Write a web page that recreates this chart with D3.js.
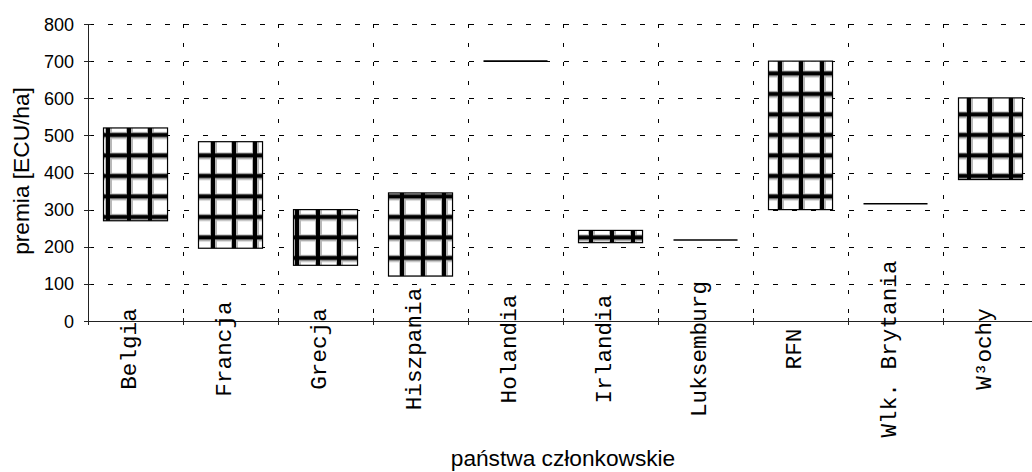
<!DOCTYPE html>
<html>
<head>
<meta charset="utf-8">
<script src="https://cdn.jsdelivr.net/npm/d3@7"></script>
<style>
  html, body { margin: 0; padding: 0; background: #fff; }
  svg { display: block; }
</style>
</head>
<body>
<svg id="chart" width="1032" height="472"></svg>
<script>
// ---- data ----
const categories = ["Belgia", "Francja", "Grecja", "Hiszpania", "Holandia", "Irlandia", "Luksemburg", "RFN", "Wlk. Brytania", "W³ochy"];
const lowValues  = [270, 196, 150, 121, 700, 211, 218, 300, 316, 381];
const highValues = [520, 483, 300, 345, 700, 244, 218, 700, 316, 601];
const yTickValues = [0, 100, 200, 300, 400, 500, 600, 700, 800];
const yTitle = "premia [ECU/ha]";
const xTitle = "państwa członkowskie";

(function () {
// ---- layout ----
const W = 1032, H = 472;
const pLeft = 88, pTop = 24, pBottom = 321;
const step = 95;
const pRight = pLeft + step * categories.length;

const svg = d3.select("#chart");

const x = d3.scaleBand().domain(categories).range([pLeft, pRight])
  .paddingInner(0.326).paddingOuter(0.163);
const y = d3.scaleLinear().domain([0, 800]).range([pBottom, pTop]);

// pattern: thick black grid with soft grey halos
const defs = svg.append("defs");
const PW = 21, PH = 20.5;
const pat = defs.append("pattern").attr("id", "grid")
  .attr("patternUnits", "userSpaceOnUse")
  .attr("width", PW).attr("height", PH);
pat.append("rect").attr("width", PW).attr("height", PH).attr("fill", "#fff");
const halo = "#b8b8b8";
pat.append("rect").attr("x", 0).attr("y", 0).attr("width", 7).attr("height", PH).attr("fill", halo);
pat.append("rect").attr("x", 0).attr("y", 9).attr("width", PW).attr("height", 7).attr("fill", halo);
pat.append("rect").attr("x", 1).attr("y", 0).attr("width", 4).attr("height", PH).attr("fill", "#000");
pat.append("rect").attr("x", 0).attr("y", 10).attr("width", PW).attr("height", 4).attr("fill", "#000");

// gridlines (horizontal)
svg.append("g").selectAll("line").data(yTickValues.filter(v => v > 0)).join("line")
  .attr("x1", pLeft).attr("x2", pRight)
  .attr("y1", d => Math.round(y(d)) + 0.5).attr("y2", d => Math.round(y(d)) + 0.5)
  .attr("stroke", "#000").attr("stroke-width", 1)
  .attr("stroke-dasharray", "5,14").attr("stroke-dashoffset", -1);

// gridlines (vertical) at band boundaries
const bounds = d3.range(1, categories.length + 1).map(i => x.step() * i + pLeft);
svg.append("g").selectAll("line").data(bounds).join("line")
  .attr("x1", d => Math.round(d) + 0.5).attr("x2", d => Math.round(d) + 0.5)
  .attr("y1", pTop).attr("y2", pBottom)
  .attr("stroke", "#000").attr("stroke-width", 1)
  .attr("stroke-dasharray", "4,15").attr("stroke-dashoffset", 0);

// floating bars
const idx = d3.range(categories.length);
svg.append("g").selectAll("rect").data(idx.filter(i => highValues[i] > lowValues[i])).join("rect")
  .attr("x", i => Math.round(x(categories[i])) + 0.5)
  .attr("y", i => y(highValues[i]))
  .attr("width", x.bandwidth())
  .attr("height", i => y(lowValues[i]) - y(highValues[i]))
  .attr("fill", "url(#grid)")
  .attr("stroke", "#000")
  .attr("stroke-width", 1.2);
// zero-height bars drawn as lines
svg.append("g").selectAll("line").data(idx.filter(i => highValues[i] === lowValues[i])).join("line")
  .attr("x1", i => Math.round(x(categories[i])) + 0.5)
  .attr("x2", i => Math.round(x(categories[i])) + 0.5 + x.bandwidth())
  .attr("y1", i => y(highValues[i])).attr("y2", i => y(highValues[i]))
  .attr("stroke", "#000")
  .attr("stroke-width", 1.6);

// y axis
const yAxis = svg.append("g");
yAxis.append("line").attr("x1", pLeft + 0.5).attr("x2", pLeft + 0.5)
  .attr("y1", pTop).attr("y2", pBottom + 2).attr("stroke", "#222");
yAxis.selectAll("line.tick").data(yTickValues).join("line").attr("class", "tick")
  .attr("x1", pLeft - 4).attr("x2", pLeft + 3)
  .attr("y1", d => Math.round(y(d)) + 0.5).attr("y2", d => Math.round(y(d)) + 0.5)
  .attr("stroke", "#222");
yAxis.selectAll("text").data(yTickValues).join("text")
  .attr("x", 74).attr("y", d => y(d) + 6.5)
  .attr("text-anchor", "end")
  .attr("font-family", "'Liberation Sans', Arial, sans-serif")
  .attr("font-size", 18).attr("fill", "#000")
  .text(d => d);

// x axis
const xAxis = svg.append("g");
xAxis.append("line").attr("x1", pLeft).attr("x2", W)
  .attr("y1", pBottom + 0.5).attr("y2", pBottom + 0.5).attr("stroke", "#222");
xAxis.selectAll("line.tick").data([pLeft].concat(bounds)).join("line").attr("class", "tick")
  .attr("x1", d => Math.round(d) + 0.5).attr("x2", d => Math.round(d) + 0.5)
  .attr("y1", pBottom - 3).attr("y2", pBottom + 4).attr("stroke", "#222");
xAxis.selectAll("text").data(categories).join("text")
  .attr("transform", d => `translate(${x(d) + x.bandwidth() / 2},349) rotate(-90)`)
  .attr("text-anchor", "middle")
  .attr("font-family", "'Liberation Mono', 'Courier New', monospace")
  .attr("font-size", 22.7).attr("fill", "#000")
  .text(d => d);

// titles
svg.append("text")
  .attr("transform", "translate(29,171) rotate(-90)")
  .attr("text-anchor", "middle")
  .attr("font-family", "'Liberation Sans', Arial, sans-serif")
  .attr("font-size", 22.7).attr("fill", "#000")
  .text(yTitle);
svg.append("text")
  .attr("x", (pLeft + pRight) / 2).attr("y", 466)
  .attr("text-anchor", "middle")
  .attr("font-family", "'Liberation Sans', Arial, sans-serif")
  .attr("font-size", 22.7).attr("fill", "#000")
  .text(xTitle);
})();
</script>
</body>
</html>
